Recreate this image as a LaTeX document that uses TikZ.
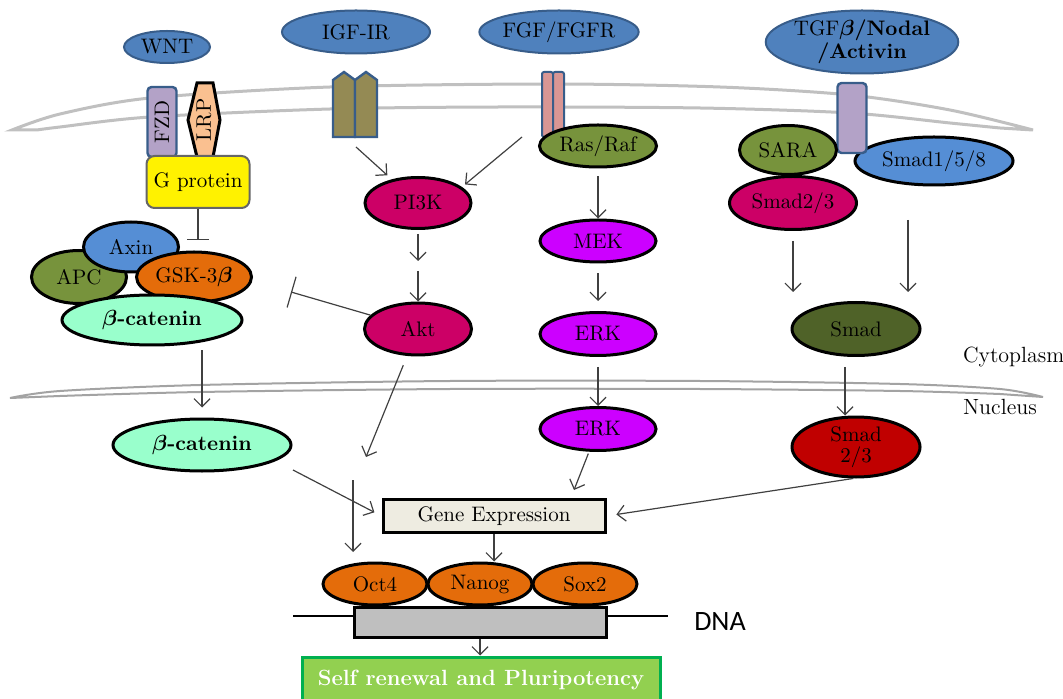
\documentclass[tikz,border=0pt]{standalone}
\usepackage{amsmath}
\usepackage{fontspec}
\newfontfamily\dnafont{Carlito}
\usetikzlibrary{shapes,arrows.meta}
\definecolor{lig}{HTML}{4F81BD}
\definecolor{ligedge}{HTML}{385D8A}
\definecolor{lilac}{HTML}{B3A2C7}
\definecolor{peach}{HTML}{FAC090}
\definecolor{khaki}{HTML}{948A54}
\definecolor{rose}{HTML}{D99694}
\definecolor{cornflower}{HTML}{558ED5}
\definecolor{olivegreen}{HTML}{77933C}
\definecolor{darkolive}{HTML}{4F6228}
\definecolor{tangerine}{HTML}{E46C0A}
\definecolor{mint}{HTML}{99FFCC}
\definecolor{raspberry}{HTML}{CC0066}
\definecolor{erkpurple}{HTML}{CC00FF}
\definecolor{crimson}{HTML}{C00000}
\definecolor{parchment}{HTML}{EEECE1}
\definecolor{dnagray}{HTML}{BFBFBF}
\definecolor{leaf}{HTML}{92D050}
\definecolor{leafedge}{HTML}{00B050}
\definecolor{membranegray}{HTML}{C0C0C0}
\definecolor{arrowgray}{HTML}{404040}
\begin{document}
\begin{tikzpicture}[x=0.5pt,y=-0.5pt,
  every node/.style={font=\fontsize{10.5}{11.5}\selectfont},
  mol/.style={ellipse,draw=black,line width=1.5pt,inner sep=0pt},
  ligand/.style={ellipse,fill=lig,draw=ligedge,line width=1pt,inner sep=0pt},
  recep/.style={rectangle,rounded corners=2pt,fill=lilac,draw=ligedge,line width=1.2pt,inner sep=0pt},
  arr/.style={-{Straight Barb[length=4pt,width=8pt]},draw=arrowgray,line width=0.6pt},
  inh/.style={-{Bar[width=11pt]},draw=arrowgray,line width=0.6pt}]
\useasboundingbox (0,0) rectangle (1063,699);
\draw[membranegray,line width=1.5pt,fill=white] plot[smooth] coordinates {(12,130) (60,114) (150,98) (330,87) (550,84) (720,87) (850,95) (950,110) (1033,130)}
  -- plot[smooth] coordinates {(1000,128) (950,123) (850,113) (700,108) (500,107) (330,109) (150,117) (60,127) (37,130)} -- cycle;
\draw[membranegray!85!black,line width=1pt,fill=white] plot[smooth] coordinates {(10,398) (60,391) (200,385) (450,381) (700,381) (900,384) (1000,389) (1043,397)}
  -- plot[smooth] coordinates {(1000,394) (900,391) (700,389) (450,389) (200,392) (60,396)} -- cycle;

\node[ligand,minimum width=43pt,minimum height=16pt] (wnt) at (167,47) {WNT};
\node[ligand,minimum width=74pt,minimum height=21.5pt] (igf) at (356,32) {IGF-IR};
\node[ligand,minimum width=79pt,minimum height=21.5pt] (fgf) at (559,32) {FGF/FGFR};
\node[ligand,minimum width=90pt,minimum height=31.5pt,align=center] (tgf) at (862,42) {TGF$\boldsymbol{\beta}$\textbf{/Nodal}\\\textbf{/Activin}};

\node[recep,minimum width=35pt,minimum height=14.5pt,rotate=90] (fzd) at (162,122) {FZD};
\draw[fill=peach,line width=1.5pt] (197,83) -- (213,83) -- (220,120) -- (213,157) -- (197,157) -- (188,120) -- cycle;
\node[rotate=90] (lrp) at (204,120) {LRP};
\foreach \x in {333,355}
  \draw[fill=khaki,draw=ligedge,line width=1.2pt] (\x,137) -- (\x,80) -- (\x+11,72) -- (\x+22,80) -- (\x+22,137) -- cycle;
\foreach \x in {542,553}
  \draw[fill=rose,draw=ligedge,line width=1pt,rounded corners=1pt] (\x,72) rectangle (\x+11,137);
\node[mol,fill=cornflower,minimum width=79pt,minimum height=24pt] (smadA) at (934,161) {Smad1/5/8};
\node[recep,minimum width=14.5pt,minimum height=35pt] (tgfr) at (852,118) {};

\node[rectangle,rounded corners=4pt,fill=yellow,draw=black!60,line width=1pt,minimum width=51.5pt,minimum height=26pt] (gprot) at (198,182) {G protein};
\node[mol,fill=olivegreen,minimum width=47.5pt,minimum height=26.5pt] (apc) at (79,277) {APC};
\node[mol,fill=cornflower,minimum width=47.5pt,minimum height=25pt] (axin) at (131,247) {Axin};
\node[mol,fill=tangerine,minimum width=57.5pt,minimum height=25pt] (gsk) at (194,277) {GSK-3$\boldsymbol{\beta}$};
\node[mol,fill=mint,minimum width=90pt,minimum height=25pt] (bcat) at (152,320) {\bfseries$\boldsymbol{\beta}$-catenin};
\node[mol,fill=mint,minimum width=89pt,minimum height=26pt] (bcatn) at (202,445) {\bfseries$\boldsymbol{\beta}$-catenin};

\node[mol,fill=raspberry,minimum width=53pt,minimum height=25.5pt] (pi3k) at (418,203) {PI3K};
\node[mol,fill=raspberry,minimum width=53.5pt,minimum height=26pt] (akt) at (418,329) {Akt};
\node[mol,fill=olivegreen,minimum width=58.5pt,minimum height=21pt] (ras) at (598,146) {Ras/Raf};
\node[mol,fill=erkpurple,minimum width=58pt,minimum height=21pt] (mek) at (598,241) {MEK};
\node[mol,fill=erkpurple,minimum width=58pt,minimum height=21.5pt] (erk) at (598,334) {ERK};
\node[mol,fill=erkpurple,minimum width=58pt,minimum height=21.5pt] (erkn) at (598,429) {ERK};

\node[mol,fill=olivegreen,minimum width=48.5pt,minimum height=24.5pt] (sara) at (788,150) {SARA};
\node[mol,fill=raspberry,minimum width=63.5pt,minimum height=26.5pt] (smadB) at (793,203) {Smad2/3};
\node[mol,fill=darkolive,minimum width=64pt,minimum height=26.5pt] (smad) at (856,329) {Smad};
\node[mol,fill=crimson,minimum width=64pt,minimum height=30pt,align=center,font=\fontsize{10.5}{10.5}\selectfont] (smadn) at (856,447) {Smad\\2/3};

\node[anchor=west,font=\fontsize{11}{13}\selectfont] (cyto) at (956,357) {Cytoplasm};
\node[anchor=west,font=\fontsize{11}{13}\selectfont] (nucl) at (956,407) {Nucleus};

\node[rectangle,fill=parchment,draw=black,line width=1.5pt,minimum width=111pt,minimum height=16.5pt] (gene) at (494,516) {Gene Expression};
\coordinate (dnaL) at (293,616);
\coordinate (dnaR) at (668,616);
\draw[line width=0.6pt] (dnaL) -- (dnaR);
\node[rectangle,fill=dnagray,draw=black,line width=1.5pt,minimum width=126pt,minimum height=15pt] (dnabox) at (480,622) {};
\node[mol,fill=tangerine,minimum width=52pt,minimum height=21pt] (oct4) at (375,584) {Oct4};
\node[mol,fill=tangerine,minimum width=52pt,minimum height=21pt] (nanog) at (480,584) {Nanog};
\node[mol,fill=tangerine,minimum width=52pt,minimum height=21pt] (sox2) at (585,584) {Sox2};
\node[font=\dnafont\fontsize{14}{16}\selectfont] (dnalabel) at (720,622) {DNA};
\node[rectangle,fill=leaf,draw=leafedge,line width=1.5pt,minimum width=179pt,minimum height=23pt,text=white,font=\fontsize{11}{13}\selectfont\bfseries] (self) at (481,680) {Self renewal and Pluripotency};

\coordinate (igfout) at (356,147);
\coordinate (fgfout) at (522,137);
\coordinate (pimid) at (418,266);
\coordinate (aktbar) at (291,292);
\coordinate (akttip) at (366,457);
\coordinate (gbar) at (198,240);
\coordinate (erktip) at (574,490);
\coordinate (smadBtip) at (793,292);
\coordinate (smadAout) at (908,220);
\coordinate (smadAtip) at (908,292);
\coordinate (bcout) at (293,470);
\coordinate (vtop) at (353,480);
\coordinate (vtip) at (353,552);

\draw[inh] (gprot) -- (gbar);
\draw[arr,shorten >=3pt] (igfout) -- (pi3k);
\draw[arr,shorten >=2pt] (fgfout) -- (pi3k.20);
\draw[arr,shorten <=2pt,shorten >=2.5pt] (pi3k) -- (pimid);
\draw[arr,shorten <=2.5pt] (pimid) -- (akt);
\draw[-{Bar[width=16pt]},draw=arrowgray,line width=0.6pt] (akt) -- (aktbar);
\draw[arr,shorten <=5pt] (akt) -- (akttip);
\draw[arr,shorten <=4pt] (ras) -- (mek);
\draw[arr,shorten <=5pt,shorten >=5pt] (mek) -- (erk);
\draw[arr,shorten <=5pt] (erk) -- (erkn);
\draw[arr,shorten <=1pt] (erkn) -- (erktip);
\draw[arr,shorten <=5pt] (smadB) -- (smadBtip);
\draw[arr] (smadAout) -- (smadAtip);
\draw[arr,shorten <=5pt] ([xshift=-5.5pt]smad.south) -- ([xshift=-5.5pt]smadn.north);
\draw[arr,shorten >=5pt] (smadn.265) -- (gene.east);
\draw[arr,shorten <=2pt,shorten >=5pt] (bcat.south -| bcatn.north) -- (bcatn.north);
\draw[arr,shorten >=4pt] (bcout) -- (gene.west);
\draw[arr] (vtop) -- (vtip);
\draw[arr] (gene.south) -- (gene.south |- nanog.north);
\draw[arr] (dnabox.south) -- (dnabox.south |- self.north);
\end{tikzpicture}
\end{document}
